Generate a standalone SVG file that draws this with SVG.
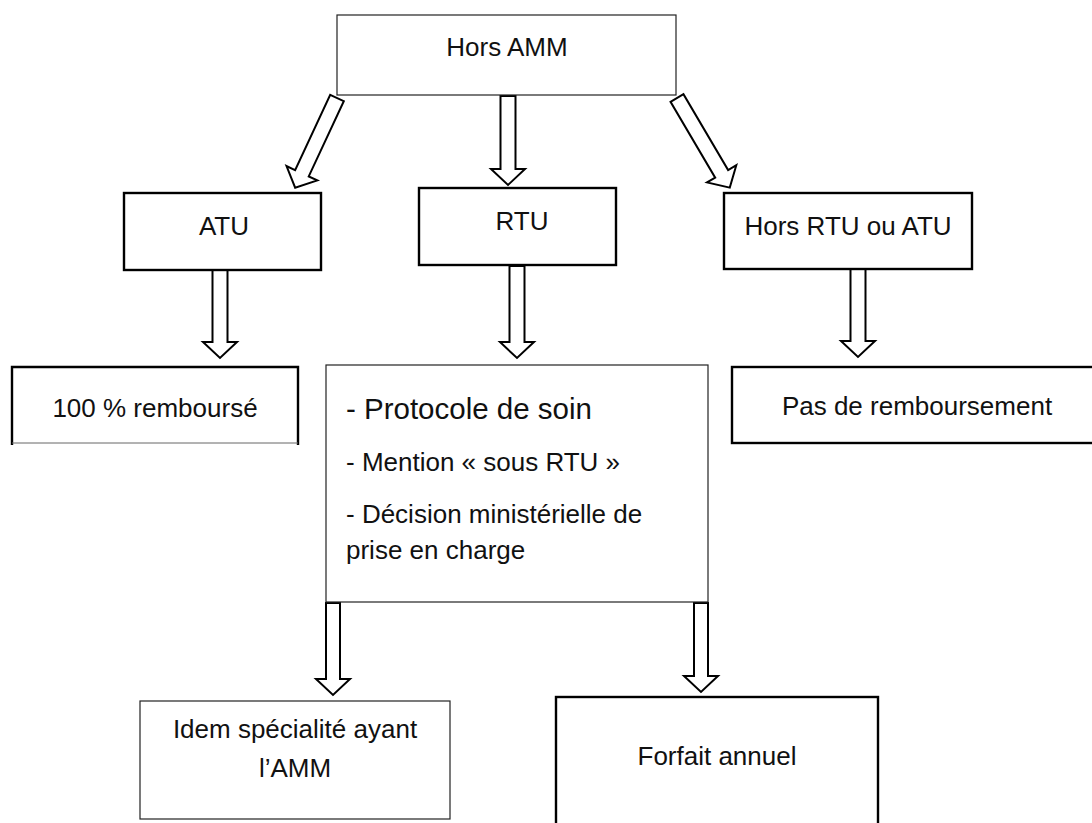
<svg xmlns="http://www.w3.org/2000/svg" width="1092" height="823" viewBox="0 0 1092 823">
<style>
.thin{fill:#fff;stroke:#222;stroke-width:1.2}
.thick{fill:#fff;stroke:#000;stroke-width:2.4}
.arr{fill:#fff;stroke:#000;stroke-width:2;stroke-linejoin:miter}
text{font-family:"Liberation Sans",Arial,sans-serif;font-size:26px;fill:#111}
.c{text-anchor:middle}
.big{font-size:29.5px}
</style>
<rect width="1092" height="823" fill="#fff"/>
<g id="connectors">
<polygon class="arr" transform="translate(508,96)" points="-7.5,0 7.5,0 7.5,73 17,73 0,89 -17,73 -7.5,73"/>
<polygon class="arr" transform="translate(337,98) rotate(25)" points="-7.5,0 7.5,0 7.5,83 17,83 0,99 -17,83 -7.5,83"/>
<polygon class="arr" transform="translate(677,98) rotate(-30.5)" points="-7.5,0 7.5,0 7.5,88 17,88 0,104 -17,88 -7.5,88"/>
<polygon class="arr" transform="translate(220,270)" points="-7.5,0 7.5,0 7.5,72 17,72 0,88 -17,72 -7.5,72"/>
<polygon class="arr" transform="translate(517,266)" points="-7.5,0 7.5,0 7.5,76 17,76 0,92 -17,76 -7.5,76"/>
<polygon class="arr" transform="translate(858,269)" points="-7.5,0 7.5,0 7.5,72 17,72 0,88 -17,72 -7.5,72"/>
<polygon class="arr" transform="translate(333,603)" points="-7,0 7,0 7,76 17,76 0,92 -17,76 -7,76"/>
<polygon class="arr" transform="translate(701,603)" points="-7,0 7,0 7,73 17,73 0,89 -17,73 -7,73"/>
</g>
<g id="hors-amm">
<rect class="thin" x="337" y="15" width="339" height="80"/>
<text class="c" x="507" y="56">Hors AMM</text>
</g>
<g id="atu">
<rect class="thick" x="124" y="193" width="197" height="77"/>
<text class="c" x="224" y="235">ATU</text>
</g>
<g id="rtu">
<rect class="thick" x="419" y="188" width="197" height="77"/>
<text class="c" x="522" y="230">RTU</text>
</g>
<g id="hors-rtu-atu">
<rect class="thick" x="724" y="193" width="248" height="76"/>
<text class="c" x="848" y="235">Hors RTU ou ATU</text>
</g>
<g id="rembourse">
<rect x="12" y="367" width="286" height="76" fill="#fff"/>
<path d="M12,445 V367 H298 V445" fill="none" stroke="#000" stroke-width="2.4"/>
<path d="M12,443 H298" fill="none" stroke="#666" stroke-width="1"/>
<text class="c" x="155" y="417">100 % remboursé</text>
</g>
<g id="protocole">
<rect class="thin" x="326" y="365" width="382" height="237"/>
<text class="big" x="346" y="419">- Protocole de soin</text>
<text x="346" y="471">- Mention « sous RTU »</text>
<text x="346" y="523">- Décision ministérielle de</text>
<text x="346" y="559">prise en charge</text>
</g>
<g id="pas-rembourse">
<rect class="thick" x="732" y="367" width="380" height="76"/>
<text class="c" x="917" y="415">Pas de remboursement</text>
</g>
<g id="idem">
<rect class="thin" x="140" y="701" width="310" height="118"/>
<text class="c" x="295" y="738">Idem spécialité ayant</text>
<text class="c" x="295" y="777">l’AMM</text>
</g>
<g id="forfait">
<rect class="thick" x="556" y="697" width="322" height="140"/>
<text class="c" x="717" y="765">Forfait annuel</text>
</g>
</svg>
